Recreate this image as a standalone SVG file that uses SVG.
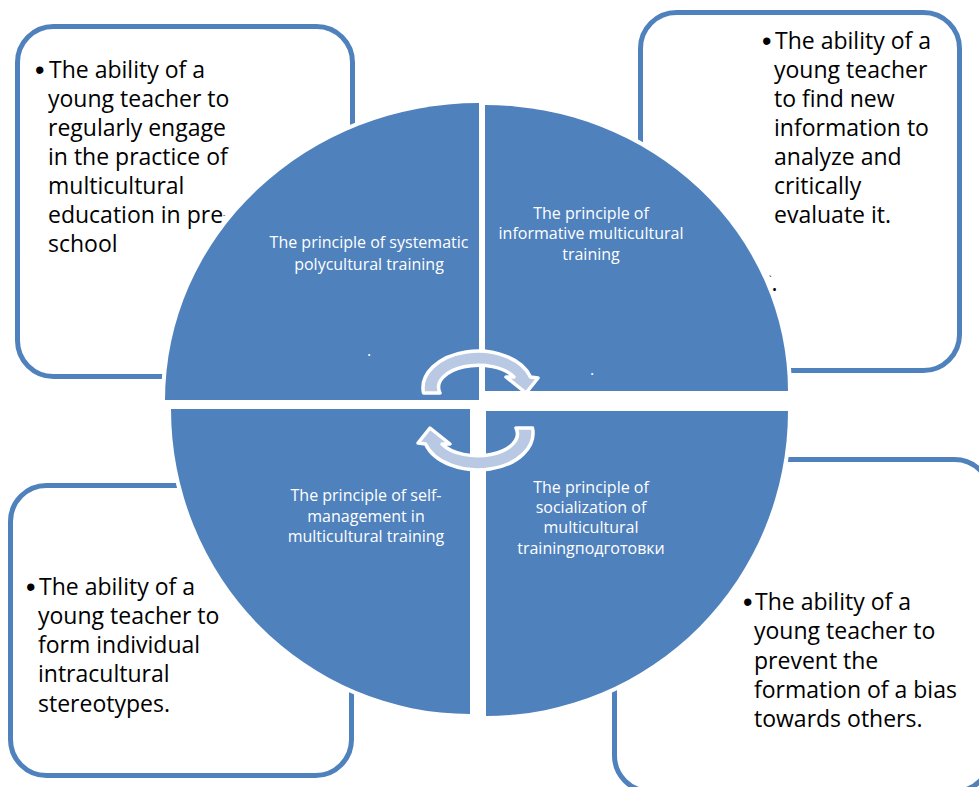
<svg xmlns="http://www.w3.org/2000/svg" width="979" height="787" viewBox="0 0 979 787">
<style>
.box{fill:#ffffff;stroke:#4f81bd;stroke-width:5}
.quad{fill:#4f81bd;stroke:#ffffff;stroke-width:8;paint-order:stroke}
.bt{font-family:"Open Sans","Liberation Sans",sans-serif;font-size:23px;fill:#000000}
.bu{font-family:"Liberation Sans",sans-serif;font-size:27px;fill:#000000}
.ct{font-family:"Open Sans","Liberation Sans",sans-serif;font-size:16px;fill:#ffffff;text-anchor:middle}
.arrow{fill:#b9c9e3;stroke:#ffffff;stroke-width:3.5;stroke-linejoin:round}
</style>
<rect x="0" y="0" width="979" height="787" fill="#ffffff"/>
<g id="box-tl">
<rect class="box" x="17.5" y="26.5" width="335" height="350" rx="36"/>
<text class="bu" x="35" y="79">•</text>
<text class="bt"><tspan x="49" y="78">The ability of a</tspan><tspan x="48" y="107">young teacher to</tspan><tspan x="48" y="136">regularly engage</tspan><tspan x="48" y="165">in the practice of</tspan><tspan x="48" y="194">multicultural</tspan><tspan x="48" y="223">education in pre</tspan><tspan font-size="7" dy="-6">-</tspan><tspan x="48" y="252">school</tspan></text>
</g>
<g id="box-tr">
<rect class="box" x="640.5" y="12.5" width="319" height="358" rx="36"/>
<text class="bu" x="762" y="50">•</text>
<text class="bt"><tspan x="775" y="49">The ability of a</tspan><tspan x="774" y="78">young teacher</tspan><tspan x="774" y="107">to find new</tspan><tspan x="774" y="136">information to</tspan><tspan x="774" y="165">analyze and</tspan><tspan x="774" y="194">critically</tspan><tspan x="774" y="223">evaluate it.</tspan></text>
<text class="bt" x="769" y="291"><tspan font-size="9" dy="-8">`</tspan><tspan dy="8">.</tspan></text>
</g>
<g id="box-bl">
<rect class="box" x="10.5" y="485.5" width="341" height="290" rx="36"/>
<text class="bu" x="26" y="596">•</text>
<text class="bt"><tspan x="39" y="595">The ability of a</tspan><tspan x="38" y="624">young teacher to</tspan><tspan x="38" y="653">form individual</tspan><tspan x="38" y="682">intracultural</tspan><tspan x="38" y="712">stereotypes.</tspan></text>
</g>
<g id="box-br">
<rect class="box" x="614.5" y="459.5" width="376" height="332" rx="36"/>
<text class="bu" x="743" y="611">•</text>
<text class="bt"><tspan x="755" y="610">The ability of a</tspan><tspan x="754" y="639">young teacher to</tspan><tspan x="754" y="669">prevent the</tspan><tspan x="754" y="698">formation of a bias</tspan><tspan x="754" y="727">towards others.</tspan></text>
</g>
<g id="quad-tl">
<path class="quad" d="M479,400 L165,400 A314,297 0 0 1 479,103 Z"/>
<text class="ct"><tspan x="369" y="248">The principle of systematic</tspan><tspan x="369" y="270">polycultural training</tspan></text>
<text class="ct" x="369" y="356">.</text>
</g>
<g id="quad-tr">
<path class="quad" d="M485,391 L485,105 A303,286 0 0 1 788,391 Z"/>
<text class="ct"><tspan x="591" y="219">The principle of</tspan><tspan x="591" y="239">informative multicultural</tspan><tspan x="591" y="260">training</tspan></text>
<text class="ct" x="592" y="375">.</text>
</g>
<g id="quad-bl">
<path class="quad" d="M470,409 L470,714 A299,305 0 0 1 171,409 Z"/>
<text class="ct"><tspan x="366" y="501">The principle of self-</tspan><tspan x="366" y="522">management in</tspan><tspan x="366" y="542">multicultural training</tspan></text>
</g>
<g id="quad-br">
<path class="quad" d="M486,411 L788,411 A302,305 0 0 1 486,716 Z"/>
<text class="ct"><tspan x="591" y="493">The principle of</tspan><tspan x="591" y="513">socialization of</tspan><tspan x="591" y="533">multicultural</tspan><tspan x="591" y="554">trainingподготовки</tspan></text>
</g>
<g id="connectors">
<path id="arrow-top" class="arrow" d="M423.5,393 A55,37 0 0 1 530.5,377 L538,378 L526,393 L506,377 L514,377 A40,22 0 0 0 440,393 Z"/>
<path id="arrow-bottom" class="arrow" transform="rotate(180 478 410.5)" d="M423.5,393 A55,37 0 0 1 530.5,377 L538,378 L526,393 L506,377 L514,377 A40,22 0 0 0 440,393 Z"/>
</g>
</svg>
